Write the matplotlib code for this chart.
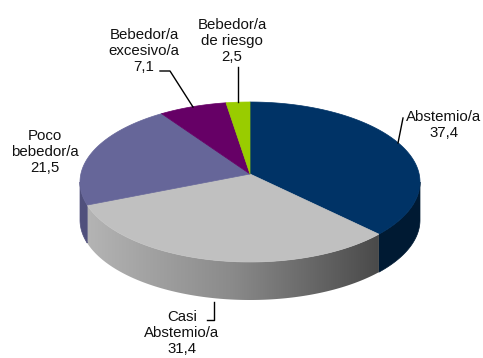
import numpy as np
import matplotlib.pyplot as plt
from matplotlib.patches import Polygon
from matplotlib.colors import LinearSegmentedColormap

# Consumo de alcohol (%)
categories = ["Abstemio/a", "Casi\nAbstemio/a", "Poco\nbebedor/a",
              "Bebedor/a\nexcesivo/a", "Bebedor/a\nde riesgo"]
values = [37.4, 31.4, 21.5, 7.1, 2.5]
value_labels = ["37,4", "31,4", "21,5", "7,1", "2,5"]

top_colors = ["#003366", "#c0c0c0", "#666699", "#660066", "#99cc00"]
side_colors = ["#001a33", None, "#50507c", "#4a004a", "#739900"]

# pie geometry in pixel units (ellipse rim + perspective apex)
cx, cy, rx, ry, depth = 250, 182, 170, 80, 38
ax0, ay0 = 250, 174

fig = plt.figure(figsize=(4.83, 3.58), dpi=100)
ax = fig.add_axes([0, 0, 1, 1])
ax.set_xlim(0, 483)
ax.set_ylim(358, 0)
ax.axis("off")


def rim_param(theta):
    """Ellipse parameter (deg) where the ray from the apex at angle theta hits the rim."""
    t = np.radians(theta)
    dx, dy = rx * np.cos(t), -ry * np.sin(t)
    ox, oy = (ax0 - cx) / rx, (ay0 - cy) / ry
    ux, uy = dx / rx, dy / ry
    a = ux ** 2 + uy ** 2
    b = 2 * (ox * ux + oy * uy)
    c = ox ** 2 + oy ** 2 - 1
    s = (-b + np.sqrt(b * b - 4 * a * c)) / (2 * a)
    x, y = ax0 + dx * s, ay0 + dy * s
    return np.degrees(np.arctan2(-(y - cy) / ry, (x - cx) / rx))


def arc(p0, p1, n=120):
    t = np.radians(np.linspace(p0, p1, n))
    return cx + rx * np.cos(t), cy - ry * np.sin(t)


# slice angles, clockwise from 12 o'clock
fracs = np.array(values) / sum(values)
starts = 90 - 360 * np.concatenate([[0], np.cumsum(fracs)[:-1]])
ends = starts - 360 * fracs

# convert to rim parameters, kept continuous going clockwise
p_starts, p_ends = [], []
for a0, a1 in zip(starts, ends):
    p0 = rim_param(a0)
    p1 = rim_param(a1)
    while p1 > p0:
        p1 -= 360
    while p0 - p1 > 360:
        p1 += 360
    if abs((p0 - p1) - (a0 - a1)) > 180:
        p1 -= 360
    p_starts.append(p0)
    p_ends.append(p1)

# side walls, front half of the rim only
for i, (p0, p1) in enumerate(zip(p_starts, p_ends)):
    # shift so the arc overlaps the window [-180, 0]
    for shift in (0, 360, -360):
        lo, hi = max(p1 + shift, -180), min(p0 + shift, 0)
        if lo < hi:
            break
    else:
        continue
    x, y = arc(hi, lo)
    pts = np.column_stack([np.r_[x, x[::-1]], np.r_[y, y[::-1] + depth]])
    if side_colors[i] is None:
        poly = Polygon(pts, closed=True, facecolor="none", edgecolor="none")
        ax.add_patch(poly)
        cmap = LinearSegmentedColormap.from_list(
            "side", ["#b4b4b4", "#8a8a8a", "#4a4a4a"])
        grad = np.linspace(0, 1, 256).reshape(1, -1)
        im = ax.imshow(grad, cmap=cmap, aspect="auto",
                       extent=[x.min(), x.max(), y.max() + depth, y.min()],
                       zorder=1)
        im.set_clip_path(poly)
    else:
        ax.add_patch(Polygon(pts, closed=True, facecolor=side_colors[i],
                             edgecolor=side_colors[i], lw=0.5, zorder=1))

# top faces
for i, (p0, p1) in enumerate(zip(p_starts, p_ends)):
    x, y = arc(p0, p1)
    pts = np.column_stack([np.r_[ax0, x], np.r_[ay0, y]])
    ax.add_patch(Polygon(pts, closed=True, facecolor=top_colors[i],
                         edgecolor=top_colors[i], lw=0.5, zorder=2))

# labels
label_pos = [(444, 125), (182, 333), (45, 152), (144, 51), (232, 41)]
for cat, val, (lx, ly) in zip(categories, value_labels, label_pos):
    ax.text(lx, ly, f"{cat}\n{val}", ha="center", va="center",
            fontsize=10.8, family="Liberation Sans", color="#111111",
            linespacing=1.15, zorder=3)

# leader lines
leaders = [
    [(403, 118), (398, 143)],
    [(214, 302), (214, 320), (207, 320)],
    [(160, 71), (170, 71), (193, 107)],
    [(238, 67), (238, 102)],
]
for pts in leaders:
    xs, ys = zip(*pts)
    ax.plot(xs, ys, color="black", lw=1.0, zorder=3)

fig.savefig("out.png", dpi=100, facecolor="white")
